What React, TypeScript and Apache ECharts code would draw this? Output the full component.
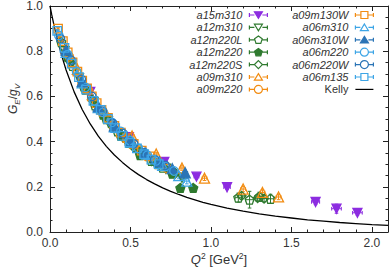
import React, { useEffect, useRef } from "react";
import * as echarts from "echarts";

// Kelly curve: Q^2 [GeV^2] and G_E/g_V
const kellyQ2 = [0, 0.01, 0.02, 0.03, 0.05, 0.075, 0.1, 0.15, 0.2, 0.25, 0.3, 0.35, 0.4, 0.45, 0.5, 0.55, 0.6, 0.65, 0.7, 0.75, 0.8, 0.85, 0.9, 0.95, 1.0, 1.1, 1.2, 1.3, 1.4, 1.5, 1.6, 1.7, 1.8, 1.9, 2.0, 2.1];
const kellyGE = [1.0, 0.964, 0.931, 0.899, 0.84, 0.775, 0.717, 0.62, 0.542, 0.478, 0.424, 0.379, 0.341, 0.308, 0.279, 0.254, 0.232, 0.213, 0.195, 0.18, 0.166, 0.153, 0.142, 0.131, 0.122, 0.106, 0.092, 0.08, 0.07, 0.062, 0.054, 0.048, 0.042, 0.0375, 0.033, 0.0295];

// Lattice data: [Q^2, G_E/g_V, error in G_E/g_V, error in Q^2]
const a15m310 = [[0.25, 0.62, 0.01, 0.012], [0.49, 0.42, 0.01, 0.012], [0.71, 0.31, 0.01, 0.015], [0.91, 0.245, 0.01, 0.015], [1.1, 0.198, 0.008, 0.02], [1.65, 0.133, 0.012, 0.025], [1.78, 0.103, 0.02, 0.03], [1.91, 0.085, 0.01, 0.03]];
const a12m310 = [[0.09, 0.8, 0.008, 0.01], [0.18, 0.68, 0.008, 0.01], [0.27, 0.575, 0.008, 0.01], [0.36, 0.49, 0.008, 0.01], [0.45, 0.42, 0.008, 0.01], [0.54, 0.36, 0.008, 0.01], [0.63, 0.315, 0.008, 0.012], [0.72, 0.28, 0.01, 0.012], [0.82, 0.24, 0.01, 0.012]];
const a12m220L = [[0.07, 0.84, 0.006, 0.008], [0.14, 0.735, 0.006, 0.008], [0.21, 0.645, 0.006, 0.008], [0.28, 0.56, 0.006, 0.008], [0.35, 0.5, 0.006, 0.01], [0.42, 0.445, 0.006, 0.01], [0.49, 0.395, 0.008, 0.01], [0.56, 0.355, 0.008, 0.01], [0.63, 0.315, 0.008, 0.012], [0.7, 0.285, 0.01, 0.012], [1.17, 0.152, 0.02, 0.02], [1.24, 0.143, 0.037, 0.025], [1.3, 0.156, 0.02, 0.02], [1.37, 0.147, 0.02, 0.02]];
const a12m220 = [[0.11, 0.775, 0.006, 0.01], [0.22, 0.63, 0.006, 0.01], [0.33, 0.52, 0.008, 0.01], [0.44, 0.425, 0.008, 0.01], [0.56, 0.34, 0.008, 0.012], [0.67, 0.3, 0.01, 0.012], [0.76, 0.258, 0.01, 0.012], [0.81, 0.195, 0.012, 0.012], [0.89, 0.195, 0.012, 0.015]];
const a12m220S = [[0.13, 0.75, 0.006, 0.01], [0.26, 0.585, 0.008, 0.01], [0.39, 0.465, 0.008, 0.01], [0.52, 0.375, 0.008, 0.012], [0.65, 0.31, 0.01, 0.012], [0.78, 0.26, 0.01, 0.012], [1.19, 0.16, 0.015, 0.02], [1.29, 0.15, 0.015, 0.02], [1.33, 0.148, 0.015, 0.02]];
const a09m310 = [[0.17, 0.72, 0.006, 0.01], [0.34, 0.535, 0.008, 0.01], [0.51, 0.425, 0.008, 0.012], [0.66, 0.345, 0.008, 0.012], [0.82, 0.283, 0.01, 0.012], [0.96, 0.238, 0.01, 0.015], [1.2, 0.19, 0.012, 0.015], [1.32, 0.175, 0.012, 0.015], [1.42, 0.155, 0.012, 0.015]];
const a09m220 = [[0.12, 0.775, 0.006, 0.01], [0.24, 0.625, 0.006, 0.01], [0.36, 0.5, 0.008, 0.01], [0.48, 0.41, 0.008, 0.01], [0.6, 0.335, 0.01, 0.012], [0.73, 0.28, 0.01, 0.012]];
const a09m130W = [[0.05, 0.9, 0.006, 0.006], [0.08, 0.845, 0.006, 0.006], [0.11, 0.795, 0.006, 0.006], [0.14, 0.75, 0.006, 0.008], [0.17, 0.71, 0.006, 0.008], [0.2, 0.67, 0.006, 0.008], [0.23, 0.635, 0.006, 0.008], [0.26, 0.6, 0.006, 0.008], [0.29, 0.57, 0.006, 0.008], [0.32, 0.54, 0.006, 0.008], [0.36, 0.505, 0.006, 0.008], [0.4, 0.47, 0.008, 0.008], [0.44, 0.44, 0.008, 0.008], [0.48, 0.415, 0.008, 0.01], [0.52, 0.39, 0.008, 0.01], [0.57, 0.36, 0.008, 0.01], [0.62, 0.335, 0.01, 0.01]];
const a06m310 = [[0.1, 0.795, 0.006, 0.01], [0.2, 0.66, 0.006, 0.01], [0.3, 0.55, 0.008, 0.01], [0.4, 0.465, 0.008, 0.01], [0.5, 0.4, 0.008, 0.012], [0.6, 0.345, 0.01, 0.012], [0.7, 0.295, 0.01, 0.012], [0.8, 0.25, 0.012, 0.012], [0.85, 0.225, 0.012, 0.015]];
const a06m310W = [[0.1, 0.805, 0.006, 0.01], [0.2, 0.665, 0.006, 0.01], [0.3, 0.555, 0.008, 0.01], [0.4, 0.47, 0.008, 0.01], [0.5, 0.405, 0.008, 0.012], [0.59, 0.35, 0.01, 0.012], [0.68, 0.31, 0.01, 0.012], [0.76, 0.28, 0.01, 0.012], [0.84, 0.262, 0.012, 0.015]];
const a06m220 = [[0.055, 0.87, 0.006, 0.008], [0.11, 0.785, 0.006, 0.008], [0.165, 0.71, 0.006, 0.008], [0.22, 0.64, 0.006, 0.008], [0.275, 0.58, 0.006, 0.008], [0.33, 0.53, 0.006, 0.008], [0.385, 0.485, 0.008, 0.01], [0.44, 0.445, 0.008, 0.01], [0.495, 0.405, 0.008, 0.01], [0.55, 0.37, 0.008, 0.01], [0.605, 0.34, 0.008, 0.01], [0.66, 0.315, 0.01, 0.012], [0.715, 0.29, 0.01, 0.012], [0.77, 0.27, 0.01, 0.012]];
const a06m220W = [[0.065, 0.855, 0.006, 0.008], [0.13, 0.76, 0.006, 0.008], [0.195, 0.675, 0.006, 0.008], [0.26, 0.6, 0.006, 0.008], [0.325, 0.535, 0.006, 0.008], [0.39, 0.48, 0.008, 0.01], [0.455, 0.435, 0.008, 0.01], [0.52, 0.39, 0.008, 0.01], [0.585, 0.35, 0.008, 0.01], [0.65, 0.32, 0.01, 0.012], [0.715, 0.295, 0.01, 0.012]];
const a06m135 = [[0.045, 0.89, 0.005, 0.006], [0.09, 0.815, 0.005, 0.006], [0.135, 0.745, 0.005, 0.006], [0.18, 0.685, 0.005, 0.006], [0.225, 0.63, 0.005, 0.006], [0.27, 0.58, 0.006, 0.008], [0.315, 0.54, 0.006, 0.008], [0.36, 0.5, 0.006, 0.008], [0.405, 0.46, 0.006, 0.008], [0.45, 0.425, 0.008, 0.008], [0.495, 0.395, 0.008, 0.01], [0.54, 0.37, 0.008, 0.01], [0.585, 0.345, 0.008, 0.01], [0.63, 0.32, 0.008, 0.01], [0.675, 0.3, 0.01, 0.01]];

const xTicks = [0, 0.5, 1.0, 1.5, 2.0];
const yTicks = [0, 0.2, 0.4, 0.6, 0.8, 1.0];

const PURPLE = "#8c2ce0";
const GREEN = "#2f7a2f";
const ORANGE = "#f28c12";
const LBLUE = "#3da5e6";
const DBLUE = "#2b74b6";

const SYM = {
  triDown: "path://M-1,-0.9 L1,-0.9 L0,0.9 Z",
  triUp: "triangle",
  circle: "circle",
  square: "rect",
  pentagon: "path://M0,-1 L0.951,-0.309 L0.588,0.809 L-0.588,0.809 L-0.951,-0.309 Z",
  diamond: "diamond",
};
const BAR = "M0,0 M18,8 M0,2 L0,6 M0,4 L5,4 M13,4 L18,4 M18,2 L18,6 ";
const ICON = {
  triDown: "path://" + BAR + "M5,0.8 L13,0.8 L9,7.4 Z",
  triUp: "path://" + BAR + "M9,0.6 L13,7.2 L5,7.2 Z",
  circle: "path://" + BAR + "M5,4 A4,4 0 1,1 13,4 A4,4 0 1,1 5,4 Z",
  square: "path://" + BAR + "M5.5,0.5 L12.5,0.5 L12.5,7.5 L5.5,7.5 Z",
  pentagon: "path://" + BAR + "M9,0.2 L12.8,3 L11.4,7.6 L6.6,7.6 L5.2,3 Z",
  diamond: "path://" + BAR + "M9,0 L13,4 L9,8 L5,4 Z",
};
const LINE_ICON = "path://M0,3.4 L18,3.4 L18,4.6 L0,4.6 Z";

type Spec = { name: string; data: number[][]; color: string; shape: keyof typeof SYM; filled: boolean; size: number };

const specs: Spec[] = [
  { name: "a15m310", data: a15m310, color: PURPLE, shape: "triDown", filled: true, size: 9 },
  { name: "a12m310", data: a12m310, color: GREEN, shape: "triDown", filled: false, size: 9 },
  { name: "a12m220L", data: a12m220L, color: GREEN, shape: "pentagon", filled: false, size: 9 },
  { name: "a12m220", data: a12m220, color: GREEN, shape: "pentagon", filled: true, size: 9 },
  { name: "a12m220S", data: a12m220S, color: GREEN, shape: "diamond", filled: false, size: 9 },
  { name: "a09m310", data: a09m310, color: ORANGE, shape: "triUp", filled: false, size: 10 },
  { name: "a09m220", data: a09m220, color: ORANGE, shape: "circle", filled: false, size: 8.5 },
  { name: "a09m130W", data: a09m130W, color: ORANGE, shape: "square", filled: false, size: 8.5 },
  { name: "a06m310", data: a06m310, color: LBLUE, shape: "triUp", filled: false, size: 10 },
  { name: "a06m310W", data: a06m310W, color: DBLUE, shape: "triUp", filled: true, size: 10 },
  { name: "a06m220", data: a06m220, color: LBLUE, shape: "circle", filled: false, size: 8.5 },
  { name: "a06m220W", data: a06m220W, color: DBLUE, shape: "circle", filled: false, size: 8.5 },
  { name: "a06m135", data: a06m135, color: LBLUE, shape: "square", filled: false, size: 8.5 },
];

const FONT = "Liberation Sans";
const FRAME = "#222";

function buildOption() {
  const series: any[] = [];
  series.push({
    name: "Kelly",
    type: "line",
    xAxisIndex: 0,
    yAxisIndex: 0,
    z: 1,
    symbol: "none",
    smooth: false,
    data: kellyQ2.map((q, i) => [q, kellyGE[i]]),
    lineStyle: { color: "#000", width: 1.3 },
    itemStyle: { color: "#000" },
  });
  specs.forEach((s) => {
    series.push({
      name: s.name + " err",
      type: "custom",
      xAxisIndex: 0,
      yAxisIndex: 0,
      z: 2,
      silent: true,
      dimensions: ["q", "g", "dg", "dq"],
      encode: { x: 0, y: 1 },
      data: s.data,
      renderItem: (params: any, api: any) => {
        const x = api.value(0);
        const y = api.value(1);
        const dy = api.value(2);
        const dx = api.value(3);
        const t = api.coord([x, y + dy]);
        const b = api.coord([x, y - dy]);
        const l = api.coord([x - dx, y]);
        const r = api.coord([x + dx, y]);
        const c = 1.8;
        const style = { stroke: s.color, lineWidth: 1 };
        const ln = (x1: number, y1: number, x2: number, y2: number) => ({ type: "line", shape: { x1, y1, x2, y2 }, style });
        return {
          type: "group",
          children: [
            ln(t[0], t[1], b[0], b[1]),
            ln(t[0] - c, t[1], t[0] + c, t[1]),
            ln(b[0] - c, b[1], b[0] + c, b[1]),
            ln(l[0], l[1], r[0], r[1]),
            ln(l[0], l[1] - c, l[0], l[1] + c),
            ln(r[0], r[1] - c, r[0], r[1] + c),
          ],
        };
      },
    });
    series.push({
      name: s.name,
      type: "scatter",
      xAxisIndex: 0,
      yAxisIndex: 0,
      z: 3,
      symbol: SYM[s.shape],
      symbolSize: s.size,
      data: s.data.map((d) => [d[0], d[1]]),
      itemStyle: {
        color: s.filled ? s.color : "rgba(255,255,255,0)",
        borderColor: s.color,
        borderWidth: 1.3,
        opacity: 1,
      },
      emphasis: { disabled: true },
    });
  });

  const legendBase = {
    orient: "vertical",
    align: "right",
    top: 9,
    itemWidth: 18,
    itemHeight: 8,
    itemGap: 0.4,
    padding: 0,
    selectedMode: false,
    itemStyle: { borderWidth: 1.2 },
    textStyle: { fontFamily: FONT, fontSize: 11, fontStyle: "italic", color: "#333", lineHeight: 12, padding: [0, 2, 0, 0] },
  };
  const legItem = (s: Spec) => ({ name: s.name, icon: ICON[s.shape] });

  const baseX = (pos: string, interval: number, tickLen: number, labels: boolean, line: boolean, gridIndex: number) => ({
    type: "value",
    gridIndex,
    position: pos,
    min: 0,
    max: 2.1,
    interval,
    axisLine: { show: line, onZero: false, lineStyle: { color: FRAME, width: 1 } },
    axisTick: { show: true, inside: true, length: tickLen, lineStyle: { color: FRAME, width: 1 } },
    axisLabel: {
      show: labels,
      showMaxLabel: false,
      margin: 5,
      fontFamily: FONT,
      fontSize: 12,
      color: "#333",
      formatter: (v: number) => (xTicks.indexOf(Math.round(v * 10) / 10) >= 0 ? v.toFixed(1) : ""),
    },
    splitLine: { show: false },
  });
  const baseY = (pos: string, labels: boolean) => ({
    type: "value",
    gridIndex: 0,
    position: pos,
    min: 0,
    max: 1.0,
    interval: 0.2,
    axisLine: { show: true, onZero: false, lineStyle: { color: FRAME, width: 1 } },
    axisTick: { show: true, inside: true, length: 5, lineStyle: { color: FRAME, width: 1 } },
    minorTick: { show: true, splitNumber: 4, length: 2.5, lineStyle: { color: FRAME, width: 1 } },
    axisLabel: {
      show: labels,
      margin: 7,
      fontFamily: FONT,
      fontSize: 12,
      color: "#333",
      formatter: (v: number) => (yTicks.indexOf(Math.round(v * 10) / 10) >= 0 ? v.toFixed(1) : ""),
    },
    splitLine: { show: false },
  });

  return {
    animation: false,
    backgroundColor: "#fff",
    grid: [
      { left: 50, right: 2, top: 6, bottom: 37 },
      { left: 50, right: 2, top: 6, bottom: 37 },
    ],
    xAxis: [
      baseX("bottom", 0.5, 5, true, true, 0),
      baseX("top", 0.5, 5, false, true, 0),
      baseX("bottom", 0.1, 2.5, false, false, 1),
      baseX("top", 0.1, 2.5, false, false, 1),
    ],
    yAxis: [baseY("left", true), baseY("right", false), { type: "value", gridIndex: 1, min: 0, max: 1, show: false }],
    legend: [
      { ...legendBase, right: 122, data: specs.slice(0, 7).map(legItem) },
      {
        ...legendBase,
        right: 16,
        data: [...specs.slice(7).map(legItem), { name: "Kelly", icon: LINE_ICON, itemStyle: { color: "#000", borderWidth: 0 }, textStyle: { fontStyle: "normal" } }],
      },
    ],
    graphic: [
      {
        type: "text",
        x: 13,
        y: 99,
        rotation: Math.PI / 2,
        style: {
          text: "{i|G}{s|E}{n|/}{i|g}{s|V}",
          align: "center",
          verticalAlign: "middle",
          fill: "#333",
          rich: {
            i: { fontFamily: FONT, fontSize: 12, fontStyle: "italic", lineHeight: 16, verticalAlign: "middle", fill: "#333" },
            n: { fontFamily: FONT, fontSize: 12, lineHeight: 16, verticalAlign: "middle", fill: "#333" },
            s: { fontFamily: FONT, fontSize: 8, fontStyle: "italic", lineHeight: 9, verticalAlign: "bottom", fill: "#333" },
          },
        },
      },
      {
        type: "text",
        x: 219,
        y: 259,
        style: {
          text: "{i|Q}{p|2}{n| [GeV}{p|2}{n|]}",
          align: "center",
          verticalAlign: "middle",
          fill: "#333",
          rich: {
            i: { fontFamily: FONT, fontSize: 13, fontStyle: "italic", lineHeight: 16, verticalAlign: "middle", fill: "#333" },
            n: { fontFamily: FONT, fontSize: 13, lineHeight: 16, verticalAlign: "middle", fill: "#333" },
            p: { fontFamily: FONT, fontSize: 8.5, lineHeight: 9, verticalAlign: "top", fill: "#333" },
          },
        },
      },
    ],
    series,
  };
}

export default function App() {
  const ref = useRef<HTMLDivElement>(null);
  useEffect(() => {
    if (!ref.current) return;
    const chart = echarts.init(ref.current, null, { renderer: "svg" });
    chart.setOption(buildOption() as any);
    return () => chart.dispose();
  }, []);
  return <div ref={ref} style={{ position: "fixed", left: 0, top: 0, width: 390, height: 269, background: "#fff" }} />;
}
